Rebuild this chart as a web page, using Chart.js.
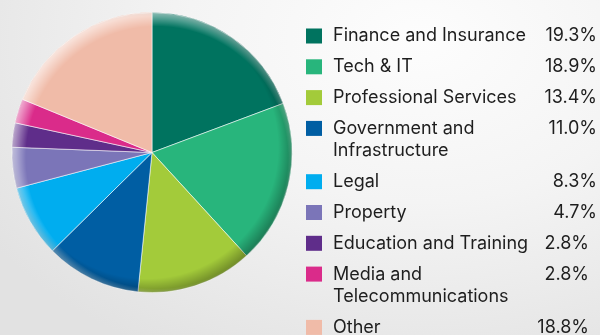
<!DOCTYPE html>
<html>
<head>
<meta charset="utf-8">
<script src="https://cdn.jsdelivr.net/npm/chart.js@4/dist/chart.umd.min.js"></script>
<style>
  html, body { margin: 0; padding: 0; }
  body {
    width: 600px; height: 335px; overflow: hidden;
    background: radial-gradient(ellipse 520px 360px at 420px 40px, #fdfdfd 0%, #f4f4f4 45%, #e2e2e2 100%);
  }
  #wrap { position: relative; width: 600px; height: 335px; }
</style>
</head>
<body>
<div id="wrap"><canvas id="sectorChart"></canvas></div>
<script>
var sectors = ["Finance and Insurance", "Tech & IT", "Professional Services", "Government and Infrastructure",
  "Legal", "Property", "Education and Training", "Media and Telecommunications", "Other"];
var shares = [19.3, 18.9, 13.4, 11.0, 8.3, 4.7, 2.8, 2.8, 18.8];
var sectorColors = ["#00735f", "#28b57c", "#a3cb3a", "#005ea3", "#00adef", "#7b75b8", "#5f2d8a", "#da2b8a", "#f0bba8"];

var legendFont = '18px Inter, "Liberation Sans", sans-serif';

// bevel along the pie rim: light top-left, dark bottom-right
var rimShade = {
  id: 'rimShade',
  afterDatasetsDraw: function (chart) {
    var arc = chart.getDatasetMeta(0).data[0];
    if (!arc) return;
    var ctx = chart.ctx, cx = arc.x, cy = arc.y, r = arc.outerRadius;
    ctx.save();
    ctx.beginPath();
    ctx.arc(cx, cy, r, 0, Math.PI * 2);
    ctx.clip();
    var dark = ctx.createRadialGradient(cx - 5, cy - 5, r - 9, cx - 5, cy - 5, r + 6);
    dark.addColorStop(0, 'rgba(0,0,0,0)');
    dark.addColorStop(1, 'rgba(0,0,0,0.3)');
    ctx.fillStyle = dark;
    ctx.fillRect(cx - r, cy - r, r * 2, r * 2);
    var light = ctx.createRadialGradient(cx + 5, cy + 5, r - 9, cx + 5, cy + 5, r + 6);
    light.addColorStop(0, 'rgba(255,255,255,0)');
    light.addColorStop(1, 'rgba(255,255,255,0.6)');
    ctx.fillStyle = light;
    ctx.fillRect(cx - r, cy - r, r * 2, r * 2);
    ctx.restore();
  }
};

function wrapLabel(ctx, text, maxWidth) {
  var words = text.split(' '), lines = [], line = '';
  words.forEach(function (w) {
    var test = line ? line + ' ' + w : w;
    if (line && ctx.measureText(test).width > maxWidth) {
      lines.push(line);
      line = w;
    } else {
      line = test;
    }
  });
  lines.push(line);
  return lines;
}

// legend with share values on the right-hand side
var sideLegend = {
  id: 'sideLegend',
  afterDraw: function (chart) {
    var ctx = chart.ctx;
    var labels = chart.data.labels;
    var ds = chart.data.datasets[0];
    ctx.save();
    ctx.font = legendFont;
    ctx.textBaseline = 'middle';
    var y = 36;
    labels.forEach(function (label, i) {
      ctx.fillStyle = ds.backgroundColor[i];
      ctx.fillRect(306, y - 7.5, 16, 15);
      var lines = wrapLabel(ctx, label, 215);
      ctx.fillStyle = '#1e1e1e';
      ctx.textAlign = 'left';
      lines.forEach(function (ln, k) {
        ctx.fillText(ln, 333, y + k * 22.5);
      });
      ctx.textAlign = 'right';
      ctx.fillText(ds.data[i].toFixed(1) + '%', i < 6 ? 597 : 589, y);
      y += 30.8 + (lines.length - 1) * 22.5;
    });
    ctx.restore();
  }
};

var ctx = document.getElementById("sectorChart").getContext("2d");
var sectorChart = new Chart(ctx, {
  type: 'pie',
  data: {
    labels: sectors,
    datasets: [{
      data: shares,
      backgroundColor: sectorColors,
      borderColor: 'rgba(255,255,255,0.55)',
      borderWidth: 1
    }]
  },
  options: {
    responsive: true,
    maintainAspectRatio: false,
    animation: false,
    layout: { padding: { left: 11.5, top: 12, right: 307.5, bottom: 42 } },
    plugins: {
      legend: { display: false },
      tooltip: { enabled: false }
    }
  },
  plugins: [rimShade, sideLegend]
});
</script>
</body>
</html>
